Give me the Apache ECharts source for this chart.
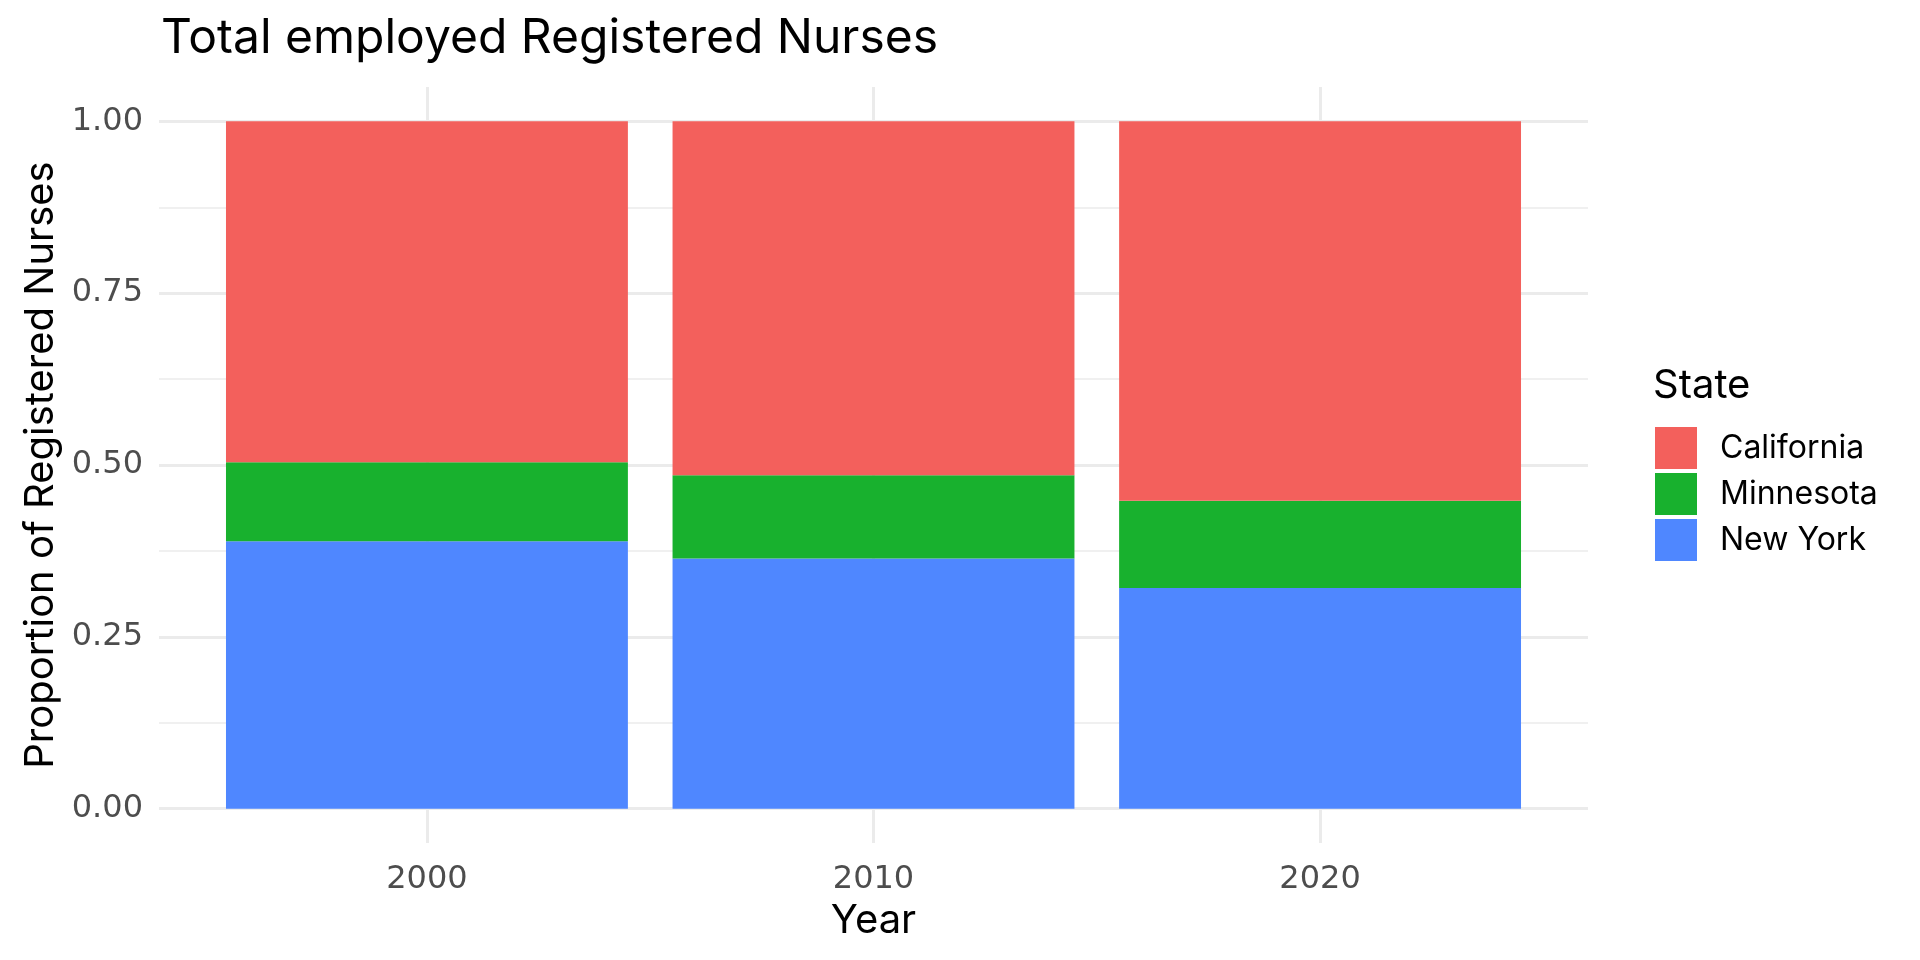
<!DOCTYPE html>
<html>
<head>
<meta charset="utf-8">
<title>Total employed Registered Nurses</title>
<script src="https://cdn.jsdelivr.net/npm/echarts@6/dist/echarts.min.js"></script>
<style>
  html, body { margin: 0; padding: 0; background: #fff; }
  #chart { width: 1920px; height: 960px; }
</style>
</head>
<body>
<div id="chart"></div>
<script>
// values (share of each year's total)
var years = ['2000', '2010', '2020'];
var california = [0.496, 0.515, 0.552];
var minnesota = [0.115, 0.121, 0.127];
var newYork = [0.389, 0.364, 0.321];

var states = ['California', 'Minnesota', 'New York'];
var yTicks = [0, 0.25, 0.5, 0.75, 1];
var yMinorTicks = [0.125, 0.375, 0.625, 0.875];

var textFont = 'Inter';
var tickFont = 'DejaVu Sans';
var gridColor = '#EBEBEB';

// years sit at 1, 2, 3 on the panel's x scale (0.4 .. 3.6)
var xPos = years.map(function (y, i) { return i + 1; });

/*
 * Two grids: the outer one is the padded panel with the grid lines and
 * labels, the inner one holds the stacked bars on a category axis.
 */
var panel = {left: 159, right: 1588, top: 87, bottom: 843};
var band = (panel.right - panel.left) / 3.2;
var yPad = (panel.bottom - panel.top) / 1.1 * 0.05;

var myChart = echarts.init(document.getElementById('chart'));

var option = {
  backgroundColor: '#fff',
  animation: false,
  title: [{
    text: 'Total employed Registered Nurses',
    left: 161,
    top: 15,
    padding: 0,
    textStyle: {fontFamily: textFont, fontSize: 48, fontWeight: 'normal', color: '#000'}
  }, {
    text: 'State',
    left: 1653,
    top: 366,
    padding: 0,
    textStyle: {fontFamily: textFont, fontSize: 40, fontWeight: 'normal', color: '#000'}
  }],
  legend: {
    data: states,
    orient: 'vertical',
    left: 1655,
    top: 427,
    padding: 0,
    icon: 'rect',
    itemWidth: 42,
    itemHeight: 42,
    itemGap: 4,
    textStyle: {fontFamily: textFont, fontSize: 32, color: '#000', padding: [0, 0, 0, 18]}
  },
  grid: [{
    left: panel.left,
    width: panel.right - panel.left,
    top: panel.top,
    height: panel.bottom - panel.top
  }, {
    left: panel.left + 0.1 * band,
    width: 3 * band,
    top: panel.top + yPad,
    height: panel.bottom - panel.top - 2 * yPad
  }],
  xAxis: [{
    gridIndex: 0,
    type: 'value',
    min: 0.4,
    max: 3.6,
    name: 'Year',
    nameLocation: 'middle',
    nameGap: 56,
    nameTextStyle: {fontFamily: textFont, fontSize: 40, color: '#000'},
    axisLine: {show: false},
    axisTick: {show: false, customValues: xPos},
    axisLabel: {
      customValues: xPos,
      margin: 21,
      fontFamily: tickFont,
      fontSize: 32,
      color: '#4D4D4D',
      formatter: function (v) { return years[Math.round(v) - 1]; }
    },
    splitLine: {show: true, lineStyle: {color: gridColor, width: 3}}
  }, {
    gridIndex: 1,
    type: 'category',
    data: years,
    show: false
  }],
  yAxis: [{
    gridIndex: 0,
    type: 'value',
    min: -0.05,
    max: 1.05,
    name: 'Proportion of Registered Nurses',
    nameLocation: 'middle',
    nameGap: 88,
    nameTextStyle: {fontFamily: textFont, fontSize: 40, color: '#000'},
    axisLine: {show: false},
    axisTick: {show: false, customValues: yTicks},
    axisLabel: {
      customValues: yTicks,
      margin: 16,
      fontFamily: tickFont,
      fontSize: 32,
      color: '#4D4D4D',
      formatter: function (v) { return v.toFixed(2); }
    },
    splitLine: {show: true, lineStyle: {color: gridColor, width: 3}}
  }, {
    gridIndex: 0,
    type: 'value',
    min: -0.05,
    max: 1.05,
    position: 'left',
    axisLine: {show: false},
    axisTick: {show: false, customValues: yMinorTicks},
    axisLabel: {show: false},
    splitLine: {show: true, lineStyle: {color: gridColor, width: 1.5}}
  }, {
    gridIndex: 1,
    type: 'value',
    min: 0,
    max: 1,
    show: false
  }],
  series: [{
    name: 'New York',
    type: 'bar',
    stack: 'share',
    xAxisIndex: 1,
    yAxisIndex: 2,
    barWidth: '90%',
    itemStyle: {color: '#4F87FF'},
    data: newYork
  }, {
    name: 'Minnesota',
    type: 'bar',
    stack: 'share',
    xAxisIndex: 1,
    yAxisIndex: 2,
    barWidth: '90%',
    itemStyle: {color: '#18B12E'},
    data: minnesota
  }, {
    name: 'California',
    type: 'bar',
    stack: 'share',
    xAxisIndex: 1,
    yAxisIndex: 2,
    barWidth: '90%',
    itemStyle: {color: '#F3605C'},
    data: california
  }]
};

myChart.setOption(option);
</script>
</body>
</html>
